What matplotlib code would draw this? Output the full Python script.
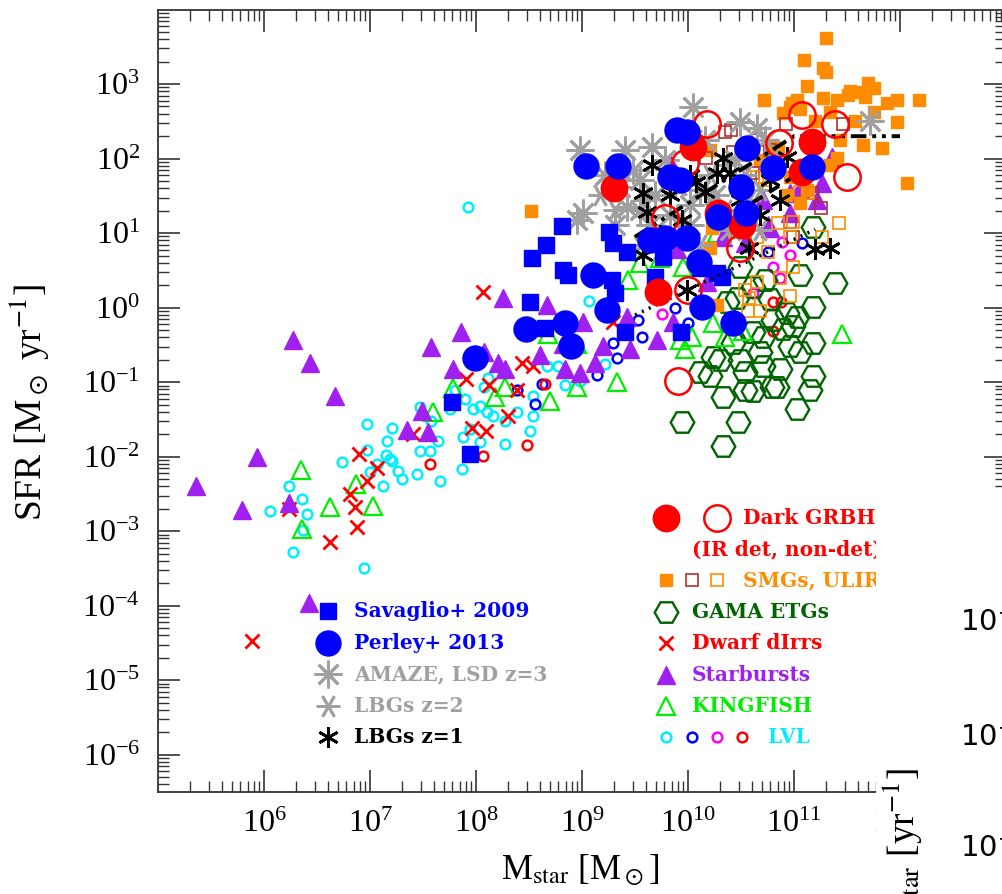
import numpy as np
import matplotlib
matplotlib.use("Agg")
import matplotlib.pyplot as plt
from matplotlib.ticker import LogLocator, NullFormatter
from matplotlib.patches import Rectangle

plt.rcParams['font.family'] = ['Liberation Serif', 'DejaVu Serif']
plt.rcParams['mathtext.fontset'] = 'stix'

# ---------------- data (log10 M*/Msun, log10 SFR/Msun yr^-1) ----------------
sav_logM = [8.81, 8.66, 8.53, 9.25, 9.29, 9.42, 8.82, 8.87, 9.28, 9.31, 8.51, 8.65,
            9.41, 9.69, 9.76, 9.67, 9.80, 10.27, 10.32, 10.11, 9.93, 7.77, 7.94]
sav_logSFR = [1.10, 0.84, 0.67, 1.02, 0.87, 0.75, 0.51, 0.44, 0.37, 0.20, 0.07, -0.27,
              -0.33, 0.41, 0.68, 0.91, 0.95, 0.47, 0.41, 0.53, -0.33, -1.27, -1.97]

per_logM = [9.90, 9.99, 10.56, 9.04, 9.34, 9.83, 9.92, 10.80, 11.17, 10.50, 10.28, 10.55,
            9.64, 9.78, 9.99, 10.10, 10.13, 10.42, 9.10, 9.24, 8.47, 8.84, 8.90, 7.99]
per_logSFR = [2.38, 2.35, 2.14, 1.90, 1.90, 1.75, 1.71, 1.87, 1.89, 1.62, 1.22, 1.27,
              0.91, 0.94, 0.94, 0.61, 0.01, -0.20, 0.44, -0.03, -0.29, -0.20, -0.52, -0.68]

darkdet_logM = [10.05, 9.30, 10.28, 10.51, 11.17, 11.08, 9.72]
darkdet_logSFR = [2.15, 1.60, 1.27, 1.11, 2.22, 1.82, 0.21]

darknon_logM = [10.18, 11.08, 11.39, 11.50, 10.86, 9.97, 9.78, 10.49, 10.00, 9.91]
darknon_logSFR = [2.47, 2.58, 2.46, 1.75, 2.21, 1.94, 1.20, 0.80, 0.24, -0.99]

smg_logM = [11.30, 11.09, 11.27, 11.30, 11.12, 10.72, 11.03, 10.98, 11.27, 11.41, 11.53,
            11.70, 11.75, 11.67, 11.97, 12.18, 11.88, 11.51, 11.62, 10.96, 10.90, 11.06,
            11.75, 11.97, 11.43, 11.65, 11.83, 11.41, 10.85, 10.79, 10.96, 11.06, 11.12,
            12.07, 10.21, 8.52, 10.21, 10.27, 10.23, 11.20, 11.34, 11.58, 10.68, 10.92, 11.34]
smg_logSFR = [3.62, 3.32, 3.22, 3.16, 2.98, 2.79, 2.78, 2.74, 2.81, 2.78, 2.91,
              3.02, 2.94, 2.82, 2.78, 2.78, 2.74, 2.85, 2.89, 2.69, 2.61, 2.67,
              2.62, 2.49, 2.25, 2.18, 2.14, 2.01, 2.14, 2.18, 1.75, 1.40, 1.58,
              1.67, 2.11, 1.30, 0.80, 0.04, 1.07, 2.51, 2.62, 2.51, 1.98, 1.51, 1.91]

ulirg_logM = [10.35, 10.41, 10.66, 10.17, 10.42, 10.61, 10.70, 10.92, 11.46, 11.17,
              11.25, 10.96, 10.99, 10.77]
ulirg_logSFR = [2.35, 2.38, 2.25, 2.01, 2.09, 1.80, 1.75, 2.46, 2.47, 1.54,
                1.34, 1.15, 0.95, 2.11]

lirg_logM = [10.65, 10.73, 11.06, 11.13, 10.85, 10.99, 11.42, 11.26, 10.96, 10.65,
             10.75, 10.99, 10.65, 10.87, 10.96, 10.58, 10.57, 10.68, 10.44, 10.54]
lirg_logSFR = [1.75, 1.71, 1.55, 1.54, 1.14, 1.15, 1.14, 0.95, 0.95, 0.95,
               0.74, 0.55, 0.35, 0.40, 0.15, 0.13, -0.05, -0.05, 1.02, 0.24]

gama_logM = [11.18, 11.06, 11.39, 11.18, 10.46, 10.37, 10.61, 10.49, 10.24, 10.11, 10.21,
             10.30, 10.71, 10.84, 11.18, 11.15, 10.33, 11.03, 9.94, 10.47, 10.33, 10.61,
             10.96, 11.06, 10.90, 10.99, 10.61, 10.42, 10.80, 10.93, 11.18, 10.71, 11.03,
             10.54, 10.87, 10.49, 10.79, 10.68, 10.54, 10.77, 10.73]
gama_logSFR = [1.08, 0.44, 0.33, 0.01, 0.13, 0.07, 0.28, 0.55, -0.66, -0.87, -0.92,
               -0.70, -0.79, -1.06, -0.92, -1.10, -1.20, -1.36, -1.54, -1.54, -1.86, -1.12,
               -0.52, -0.60, -0.29, -0.25, -0.33, -0.47, -0.16, -0.07, -0.47, -0.39, -0.12,
               -0.86, -0.83, -0.70, -1.07, -0.60, -1.10, 0.11, 0.37]

dwarf_logM = [6.90, 7.07, 6.97, 6.81, 6.86, 6.24, 6.88, 6.62, 5.89, 8.07, 7.91, 8.12,
              7.96, 8.09, 7.41, 9.29, 8.43, 8.54, 8.39, 8.30]
dwarf_logSFR = [-1.97, -2.15, -2.33, -2.50, -2.67, -2.70, -2.94, -3.14, -4.48, 0.21, -0.96, -1.04,
                -1.62, -1.66, -1.70, -0.19, -0.74, -0.79, -1.10, -1.46]

sb_logM = [6.67, 5.93, 5.36, 5.79, 6.24, 6.42, 6.27, 6.43, 7.58, 7.86, 7.78, 8.08, 8.21,
           7.49, 7.35, 7.55, 8.25, 8.67, 9.01, 9.42, 9.20, 9.45, 9.71, 9.86, 9.90, 10.33,
           10.54, 10.77, 10.71, 10.96, 11.06, 11.22, 11.36, 11.26, 9.83, 10.18, 8.82, 8.60,
           8.27, 8.84, 8.98, 9.12, 10.96, 10.75]
sb_logSFR = [-1.19, -2.01, -2.39, -2.71, -2.62, -3.96, -0.44, -0.75, -0.53, -0.33, -0.83, -0.59, -0.75,
             -1.39, -1.64, -1.67, 0.13, 0.04, -0.19, -0.13, -0.52, -0.56, -0.43, -0.19, 0.78, 0.95,
             0.87, 1.07, 1.44, 1.54, 1.60, 1.44, 2.02, 1.67, 1.94, 0.35, -0.49, -0.63,
             -0.83, -0.83, -0.88, -0.74, 1.27, 1.11]

kf_logM = [6.35, 6.87, 6.62, 7.03, 6.36, 7.78, 7.59, 8.18, 9.33, 8.95, 8.70, 8.27, 8.68,
           9.92, 10.04, 10.24, 10.35, 10.52, 11.45, 9.55, 9.95, 9.43, 10.27, 9.74, 8.95, 9.97]
kf_logSFR = [-2.18, -2.37, -2.67, -2.66, -2.97, -1.08, -1.40, -1.20, -1.00, -1.06, -1.26, -1.06, -0.36,
             -0.43, -0.39, -0.20, -0.39, -0.32, -0.36, 0.60, 0.55, 0.37, 1.00, 0.67, -0.49, -0.56]

lvlc_logM = [6.97, 7.21, 7.16, 6.97, 7.15, 7.21, 6.74, 7.07, 7.00, 7.26, 7.12, 6.24, 6.36,
             6.06, 6.41, 6.37, 6.27, 6.94, 7.30, 7.44, 7.66, 7.87, 7.47, 7.58, 7.57, 7.47,
             7.64, 7.19, 7.90, 8.04, 8.10, 8.16, 7.88, 8.04, 7.94, 8.11, 8.08, 7.97, 9.07,
             8.67, 8.77, 8.84, 8.98, 9.22, 8.54, 8.54, 8.51, 8.27, 8.39, 8.27, 7.92, 7.80, 7.75]
lvlc_logSFR = [-1.56, -1.62, -1.79, -1.91, -1.98, -2.06, -2.07, -2.10, -2.21, -2.19, -2.39, -2.39, -2.57,
               -2.73, -2.77, -2.99, -3.28, -3.50, -2.30, -2.23, -2.33, -2.17, -1.34, -1.52, -1.93, -1.93,
               -1.79, -2.03, -1.23, -1.32, -1.40, -1.46, -1.74, -1.80, -1.63, -0.94, -1.06, -1.36, 0.09,
               -0.79, -0.79, -1.04, -0.99, -0.76, -1.19, -1.46, -1.66, -1.83, -1.40, -1.52, 1.35, -1.10, -1.36]

lvlb_logM = [11.08, 10.75, 9.88, 10.00, 9.57, 9.29, 9.33, 9.14, 8.56, 8.39, 8.62, 9.53]
lvlb_logSFR = [0.87, 0.75, 0.00, -0.21, -0.39, -0.47, -0.67, -0.90, -1.30, -1.11, -1.03, -0.16]

lvlm_logM = [9.75, 10.89, 10.96, 10.80, 10.87, 10.61]
lvlm_logSFR = [-0.09, 0.88, 0.70, 0.55, 0.40, 0.20]

lvlr_logM = [8.65, 8.48, 10.80, 10.88, 10.80, 7.57, 8.07]
lvlr_logSFR = [-1.03, -1.84, 0.07, 0.08, -0.32, -2.10, -1.99]

amaze_logM = [8.98, 9.41, 9.66, 10.05, 9.01, 8.95, 9.42, 9.55, 9.48, 9.36, 9.69, 9.78,
              10.11, 10.16, 10.49, 10.65, 10.73, 10.02, 9.83, 9.64, 11.72, 10.44,
              9.31, 9.55, 10.02, 10.25, 10.40, 9.22, 9.88]
amaze_logSFR = [2.11, 2.11, 2.15, 2.69, 1.27, 1.18, 1.35, 1.71, 1.84, 1.62, 1.51, 1.98,
                1.58, 2.25, 2.49, 2.41, 2.25, 1.38, 1.24, 1.11, 2.51, 1.98,
                1.11, 1.31, 1.11, 1.51, 1.04, 1.78, 1.64]

lbg2_logM = [9.17, 9.31, 9.59, 9.92, 10.21, 10.35, 10.54, 10.68, 9.92, 10.11, 10.35,
             9.55, 9.74, 10.07, 10.79, 10.58, 10.68]
lbg2_logSFR = [1.51, 1.31, 1.44, 1.64, 1.78, 1.91, 1.78, 1.58, 1.04, 0.84, 1.31,
               0.84, 0.78, 2.25, 1.98, 1.44, 1.04]

lbg1_logM = [9.66, 9.58, 9.61, 10.08, 10.16, 10.27, 10.40, 9.94, 10.93, 10.87, 11.20,
             11.34, 9.58, 9.99, 10.58, 10.49, 10.33, 9.83, 10.02, 9.74, 10.68, 10.77]
lbg1_logSFR = [1.91, 1.54, 1.28, 1.68, 1.55, 1.80, 1.80, 1.18, 2.02, 1.44, 0.78,
               0.80, 0.71, 0.24, 0.80, 1.44, 2.01, 1.51, 1.78, 0.98, 1.24, 1.71]

# main-sequence relations
ms2_logM = [9.5, 11.0, 12.0]
ms2_logSFR = [0.95, 2.30, 2.30]
ms1_logM = [10.3, 11.0]
ms1_logSFR = [1.13, 1.76]
ms0_logM = [9.5, 11.2]
ms0_logSFR = [-0.10, 1.05]

# ---------------- figure ----------------
W, H = 1002, 894
fig = plt.figure(figsize=(W / 100, H / 100), dpi=100)
L, R, T, B = 158, 1006, 9.5, 792
ax = fig.add_axes([L / W, (H - B) / H, (R - L) / W, (B - T) / H])
ax.set_xscale('log')
ax.set_yscale('log')
ax.set_xlim(1e5, 1e13)
ax.set_ylim(10 ** -6.5, 1e4)

ax.set_xticks([10.0 ** k for k in range(6, 13)])
ax.set_yticks([10.0 ** k for k in range(-6, 4)])
ax.xaxis.set_minor_locator(LogLocator(base=10, subs=np.arange(2, 10), numticks=100))
ax.yaxis.set_minor_locator(LogLocator(base=10, subs=np.arange(2, 10), numticks=100))
ax.xaxis.set_minor_formatter(NullFormatter())
ax.yaxis.set_minor_formatter(NullFormatter())
ax.tick_params(which='both', direction='in', top=True, right=True, color='#333333')
ax.tick_params(which='major', length=16, width=1.2, labelsize=23, pad=13)
ax.tick_params(which='minor', length=8, width=1.0)
for s in ax.spines.values():
    s.set_linewidth(1.3)
    s.set_color('#333333')


def pts(lm, ls, **kw):
    ax.plot(10 ** np.asarray(lm), 10 ** np.asarray(ls), ls='none', **kw)


cyan = '#00eeff'
lime = '#00ee00'
purple = '#a020f0'
orange = '#ff8c00'
brown = '#b03030'
dgreen = '#006400'
gray = '#a0a0a0'

# lines
ax.plot(10 ** np.asarray(ms0_logM), 10 ** np.asarray(ms0_logSFR), color='k', lw=2.5,
        ls=(0, (0.6, 1.6)), zorder=9)
ax.plot(10 ** np.asarray(ms1_logM), 10 ** np.asarray(ms1_logSFR), color='k', lw=2.8,
        ls=(0, (3, 2)), zorder=9)
ax.plot(10 ** np.asarray(ms2_logM), 10 ** np.asarray(ms2_logSFR), color='k', lw=2.8,
        ls=(0, (4, 1.5, 1, 1.5, 1, 1.5)), zorder=9)

pts(lvlc_logM, lvlc_logSFR, marker='o', ms=7, mfc='none', mec=cyan, mew=1.8, zorder=2)
pts(lvlb_logM, lvlb_logSFR, marker='o', ms=7, mfc='none', mec='#0000ff', mew=1.8, zorder=2)
pts(lvlm_logM, lvlm_logSFR, marker='o', ms=7, mfc='none', mec='#ff00ff', mew=1.8, zorder=2)
pts(lvlr_logM, lvlr_logSFR, marker='o', ms=7, mfc='none', mec='#ff0000', mew=1.8, zorder=2)
pts(gama_logM, gama_logSFR, marker='H', ms=17, mfc='none', mec=dgreen, mew=1.7, zorder=3)
pts(kf_logM, kf_logSFR, marker='^', ms=13, mfc='none', mec=lime, mew=1.6, zorder=3)
pts(dwarf_logM, dwarf_logSFR, marker='x', ms=10, mec='#ff0000', mew=2.0, zorder=4)
pts(sb_logM, sb_logSFR, marker='^', ms=13, mfc=purple, mec=purple, zorder=4)
pts(smg_logM, smg_logSFR, marker='s', ms=8.5, mfc=orange, mec=orange, zorder=5)
pts(ulirg_logM, ulirg_logSFR, marker='s', ms=8.5, mfc='none', mec=brown, mew=1.2, zorder=5)
pts(lirg_logM, lirg_logSFR, marker='s', ms=8.5, mfc='none', mec=orange, mew=1.2, zorder=5)
pts(amaze_logM, amaze_logSFR, marker=(8, 2, 0), ms=20, mec=gray, mew=2.0, zorder=6)
pts(lbg2_logM, lbg2_logSFR, marker=(6, 2, 90), ms=17, mec=gray, mew=2.0, zorder=6)
pts(lbg1_logM, lbg1_logSFR, marker=(6, 2, 0), ms=15, mec='k', mew=2.0, zorder=7)
pts(sav_logM, sav_logSFR, marker='s', ms=12, mfc='#0000ff', mec='#0000ff', zorder=8)
pts(darknon_logM, darknon_logSFR, marker='o', ms=19, mfc='none', mec='#ff0000', mew=1.8, zorder=10)
pts(darkdet_logM, darkdet_logSFR, marker='o', ms=19, mfc='#ff0000', mec='#ff0000', zorder=10)
pts(per_logM, per_logSFR, marker='o', ms=18, mfc='#0000ff', mec='#0000ff', zorder=11)

# ---------------- custom legends ----------------
def fx(px):
    return (px - L) / (R - L)


def fy(py):
    return (B - py) / (B - T)


def lmark(px, py, **kw):
    ax.plot([fx(px)], [fy(py)], transform=ax.transAxes, clip_on=False, ls='none', zorder=12, **kw)


def ltext(px, py, s, c):
    ax.text(fx(px), fy(py), s, transform=ax.transAxes, color=c, fontsize=14.5,
            fontweight='bold', family='DejaVu Serif', ha='left', va='center', zorder=12)


lmark(328, 611, marker='s', ms=12, mfc='#0000ff', mec='#0000ff')
ltext(354, 611, 'Savaglio+ 2009', '#0000ff')
lmark(328, 643, marker='o', ms=18, mfc='#0000ff', mec='#0000ff')
ltext(354, 643, 'Perley+ 2013', '#0000ff')
lmark(328, 674, marker=(8, 2, 0), ms=20, mec=gray, mew=2.0)
ltext(354, 674, 'AMAZE, LSD z=3', gray)
lmark(328, 706, marker=(6, 2, 90), ms=17, mec=gray, mew=2.0)
ltext(354, 706, 'LBGs z=2', gray)
lmark(328, 737, marker=(6, 2, 0), ms=15, mec='k', mew=2.0)
ltext(354, 737, 'LBGs z=1', 'k')

lmark(666, 518, marker='o', ms=19, mfc='#ff0000', mec='#ff0000')
lmark(717, 518, marker='o', ms=19, mfc='none', mec='#ff0000', mew=1.8)
ltext(743, 518, 'Dark GRBHs', '#ff0000')
ltext(692, 549, '(IR det, non-det)', '#ff0000')
lmark(666, 580, marker='s', ms=8.5, mfc=orange, mec=orange)
lmark(692, 580, marker='s', ms=8.5, mfc='none', mec=brown, mew=1.2)
lmark(717, 580, marker='s', ms=8.5, mfc='none', mec=orange, mew=1.2)
ltext(743, 580, 'SMGs, ULIRGs', orange)
lmark(666, 612, marker='H', ms=17, mfc='none', mec=dgreen, mew=1.7)
ltext(692, 612, 'GAMA ETGs', dgreen)
lmark(666, 643, marker='x', ms=10, mec='#ff0000', mew=2.0)
ltext(692, 643, 'Dwarf dIrrs', '#ff0000')
lmark(666, 675, marker='^', ms=13, mfc=purple, mec=purple)
ltext(692, 675, 'Starbursts', purple)
lmark(666, 706, marker='^', ms=13, mfc='none', mec=lime, mew=1.6)
ltext(692, 706, 'KINGFISH', lime)
lmark(666, 737, marker='o', ms=7, mfc='none', mec=cyan, mew=1.8)
lmark(692, 737, marker='o', ms=7, mfc='none', mec='#0000ff', mew=1.8)
lmark(717, 737, marker='o', ms=7, mfc='none', mec='#ff00ff', mew=1.8)
lmark(742, 737, marker='o', ms=7, mfc='none', mec='#ff0000', mew=1.8)
ltext(768, 737, 'LVL', cyan)

# axis labels
fig.text(30 / W, 1 - 402 / H, r'SFR [M$_\odot$ yr$^{-1}$]', rotation=90, ha='center',
         va='center', fontsize=27)
fig.text(580 / W, 1 - 852 / H, r'M$_{\rm star}$ [M$_\odot$]', ha='center', va='top', fontsize=25)

# ---------------- overlapping neighbouring panel (cropped) ----------------
fig.patches.append(Rectangle((876 / W, 0), 1 - 876 / W, (H - 490) / H, transform=fig.transFigure,
                             facecolor='white', edgecolor='none', zorder=20))
for py, lab in [(622, r'$10^{-9}$'), (737, r'$10^{-10}$'), (848, r'$10^{-11}$')]:
    fig.text(960 / W, 1 - py / H, lab, family='DejaVu Sans', fontsize=21, ha='left',
             va='center', zorder=21, math_fontfamily='dejavusans')
fig.text(903 / W, 1 - 768 / H, r'sSFR=SFR/M$_{\rm star}$ [yr$^{-1}$]', rotation=90, ha='center',
         va='top', fontsize=27, zorder=21)

fig.savefig('out.png', dpi=100)
